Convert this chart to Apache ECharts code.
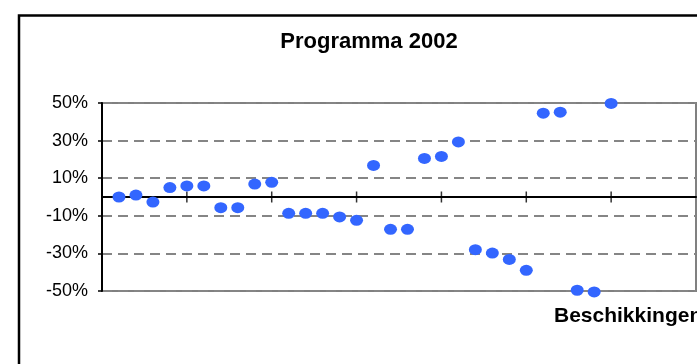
<!DOCTYPE html>
<html>
<head>
<meta charset="utf-8">
<script src="https://cdn.jsdelivr.net/npm/echarts@6/dist/echarts.min.js"></script>
<style>
  html, body { margin: 0; padding: 0; background: #fff; }
  #chart { width: 697px; height: 364px; }
</style>
</head>
<body>
<div id="chart"></div>
<script>
// Programma 2002: afwijking per beschikking (in procenten)
const titleText = 'Programma 2002';
const xAxisName = 'Beschikkingen';
const beschikkingNr = [1, 2, 3, 4, 5, 6, 7, 8, 9, 10, 11, 12, 13, 14, 15,
                       16, 17, 18, 19, 20, 21, 22, 23, 24, 25, 26, 27, 28, 29, 30];
const afwijking = [0, 1, -2.7, 5, 5.9, 5.9, -5.7, -5.7, 6.9, 7.8,
                   -8.7, -8.7, -8.7, -10.6, -12.4, 16.8, -17.2, -17.2, 20.5, 21.6,
                   29.3, -28, -29.8, -33.2, -39, 44.6, 45.1, -49.6, -50.5, 49.8];
const yTicks = [-50, -30, -10, 10, 30, 50];
// major tick positions on the horizontal axis (marks cross the zero line)
const xTicks = [5, 10, 15, 20, 25, 30];

const points = beschikkingNr.map((n, i) => [n, afwijking[i]]);
const tickMarks = xTicks.map(v => [v, 0]);

const chart = echarts.init(document.getElementById('chart'), null, { renderer: 'canvas' });

chart.setOption({
  animation: false,
  backgroundColor: '#fff',
  grid: {
    left: 102, top: 103, width: 594, height: 188,
    show: true, borderColor: '#808080', borderWidth: 2, backgroundColor: 'transparent'
  },
  graphic: [
    {
      type: 'rect', silent: true, z: -1,
      shape: { x: 19, y: 15.5, width: 760, height: 420 },
      style: { fill: 'none', stroke: '#000', lineWidth: 2.5 }
    },
    {
      type: 'text', x: 369, y: 42,
      style: {
        text: titleText, align: 'center', verticalAlign: 'middle',
        fontSize: 22, fontWeight: 'bold',
        fontFamily: '"Liberation Sans", Arial, sans-serif', fill: '#000'
      }
    },
    {
      type: 'text', x: 554, y: 316,
      style: {
        text: xAxisName, align: 'left', verticalAlign: 'middle',
        fontSize: 21, fontWeight: 'bold',
        fontFamily: '"Liberation Sans", Arial, sans-serif', fill: '#000'
      }
    }
  ],
  xAxis: {
    type: 'value',
    min: 0,
    max: 35,
    interval: 5,
    axisLabel: { show: false },
    splitLine: { show: false },
    axisLine: { onZero: true, lineStyle: { color: '#000', width: 2 } },
    axisTick: { show: false }
  },
  yAxis: {
    type: 'value',
    min: yTicks[0],
    max: yTicks[yTicks.length - 1],
    interval: 20,
    axisLine: { show: true, onZero: false, lineStyle: { color: '#000', width: 2 } },
    axisTick: { show: true, length: 4, lineStyle: { color: '#000', width: 1.5 } },
    axisLabel: {
      margin: 14,
      color: '#000',
      fontFamily: '"Liberation Sans", Arial, sans-serif',
      fontSize: 18,
      formatter: v => v + '%'
    },
    splitLine: { show: true, lineStyle: { color: '#858585', width: 2, type: [10, 6] } }
  },
  series: [
    {
      type: 'scatter',
      data: tickMarks,
      symbol: 'rect',
      symbolSize: [1.5, 11],
      silent: true,
      itemStyle: { color: '#000' },
      z: 3
    },
    {
      type: 'scatter',
      data: points,
      symbol: 'circle',
      symbolSize: [13, 11],
      clip: false,
      itemStyle: { color: '#3366ff', opacity: 1 },
      z: 5
    }
  ]
});
</script>
</body>
</html>
